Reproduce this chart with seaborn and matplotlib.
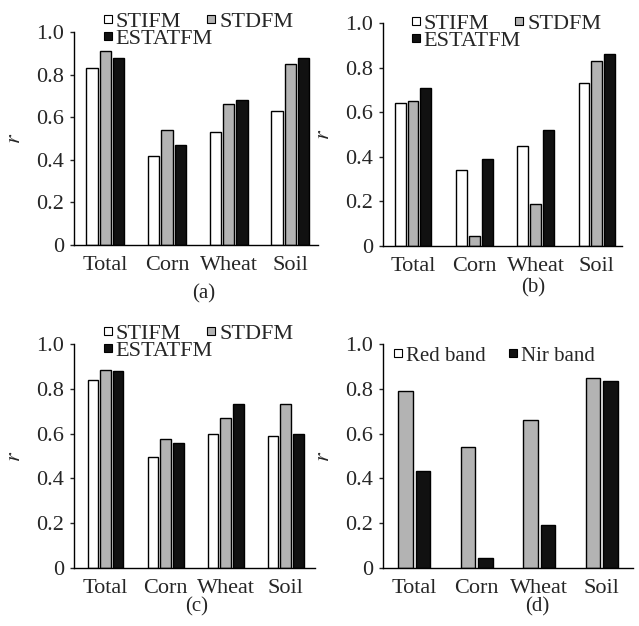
import pandas as pd
import numpy as np
import matplotlib
matplotlib.use('Agg')
import matplotlib.pyplot as plt
from matplotlib.lines import Line2D
import seaborn as sns

# land cover classes on x axis
classes = ['Total', 'Corn', 'Wheat', 'Soil']
methods = ['STIFM', 'STDFM', 'ESTATFM']
bands = ['Red band', 'Nir band']

# correlation r, panel (a)
a_stifm = [0.83, 0.42, 0.53, 0.63]
a_stdfm = [0.91, 0.54, 0.66, 0.85]
a_estatfm = [0.88, 0.47, 0.68, 0.88]
# panel (b)
b_stifm = [0.64, 0.34, 0.45, 0.73]
b_stdfm = [0.65, 0.045, 0.19, 0.83]
b_estatfm = [0.71, 0.39, 0.52, 0.86]
# panel (c)
c_stifm = [0.84, 0.495, 0.60, 0.59]
c_stdfm = [0.885, 0.578, 0.67, 0.73]
c_estatfm = [0.88, 0.56, 0.73, 0.597]
# panel (d)
d_red = [0.788, 0.542, 0.661, 0.846]
d_nir = [0.433, 0.045, 0.194, 0.833]

yticks = [0, 0.2, 0.4, 0.6, 0.8, 1.0]
ytick_labels = ['0', '0.2', '0.4', '0.6', '0.8', '1.0']

white, gray, black = '#ffffff', '#b3b3b3', '#111111'

sns.set_style('ticks')
plt.rcParams['font.family'] = ['Liberation Serif', 'DejaVu Serif']
plt.rcParams['mathtext.fontset'] = 'stix'

W, H = 639, 626
fig = plt.figure(figsize=(W / 100, H / 100), dpi=100)


def px_axes(left, top, right, bottom):
    return fig.add_axes([left / W, 1 - bottom / H, (right - left) / W, (bottom - top) / H])


def long_df(series, names):
    rows = []
    for name, vals in zip(names, series):
        for c, v in zip(classes, vals):
            rows.append({'cls': c, 'grp': name, 'r': v})
    return pd.DataFrame(rows)


def draw(ax, df, names, colors, xlim, width, gap):
    sns.barplot(data=df, x='cls', y='r', hue='grp', hue_order=names, order=classes,
                palette=colors, edgecolor='black', linewidth=1.0, width=width, gap=gap,
                legend=False, ax=ax, errorbar=None, saturation=1)
    ax.set_ylim(0, 1.0)
    ax.set_xlim(*xlim)
    ax.set_yticks(yticks)
    ax.set_yticklabels(ytick_labels)
    ax.set_xlabel('')
    ax.set_ylabel('$r$', fontsize=16, labelpad=8)
    ax.tick_params(axis='y', length=3, width=1, labelsize=16, pad=4, direction='out')
    ax.tick_params(axis='x', length=0, labelsize=16, pad=8)
    sns.despine(ax=ax)
    for s in ['left', 'bottom']:
        ax.spines[s].set_linewidth(1.0)
        ax.spines[s].set_color('black')


def add_legend(ax, names, colors, x, y, ncol, colsp, fs):
    handles = [Line2D([], [], marker='s', linestyle='none', markersize=6,
                      markerfacecolor=c, markeredgecolor='black', markeredgewidth=0.8)
               for c in colors]
    ax.legend(handles, names, loc='upper left', bbox_to_anchor=(x / W, 1 - y / H),
              bbox_transform=fig.transFigure, ncol=ncol, frameon=False, fontsize=fs,
              handlelength=0.5, handletextpad=0.1, columnspacing=colsp,
              labelspacing=-0.15, borderpad=0, borderaxespad=0)


cols3 = [white, gray, black]
# column-major legend fill: STIFM / ESTATFM in first column, STDFM in second
leg_names = [methods[0], methods[2], methods[1]]
leg_cols = [white, black, gray]

ax_a = px_axes(74, 32, 318, 245)
draw(ax_a, long_df([a_stifm, a_stdfm, a_estatfm], methods), methods, cols3,
     (-0.51, 3.45), 0.65, 0.15)
add_legend(ax_a, leg_names, leg_cols, 102, 11, 2, -0.3, 16)

ax_b = px_axes(383, 23, 622, 246)
draw(ax_b, long_df([b_stifm, b_stdfm, b_estatfm], methods), methods, cols3,
     (-0.49, 3.41), 0.63, 0.15)
add_legend(ax_b, leg_names, leg_cols, 410, 13, 2, -0.3, 16)

ax_c = px_axes(74, 344, 315, 568)
draw(ax_c, long_df([c_stifm, c_stdfm, c_estatfm], methods), methods, cols3,
     (-0.525, 3.49), 0.63, 0.15)
add_legend(ax_c, leg_names, leg_cols, 102, 323, 2, -0.3, 16)

ax_d = px_axes(383, 344, 633, 568)
draw(ax_d, long_df([d_red, d_nir], bands), bands, [gray, black],
     (-0.5, 3.5), 0.566, 0.19)
add_legend(ax_d, bands, [white, black], 393, 346, 2, 1.1, 15)

for lab, x, y in [('(a)', 204, 294), ('(b)', 533, 288), ('(c)', 197, 607), ('(d)', 537, 607)]:
    fig.text(x / W, 1 - y / H, lab, ha='center', va='center', fontsize=15)

fig.savefig('out.png', dpi=100)
